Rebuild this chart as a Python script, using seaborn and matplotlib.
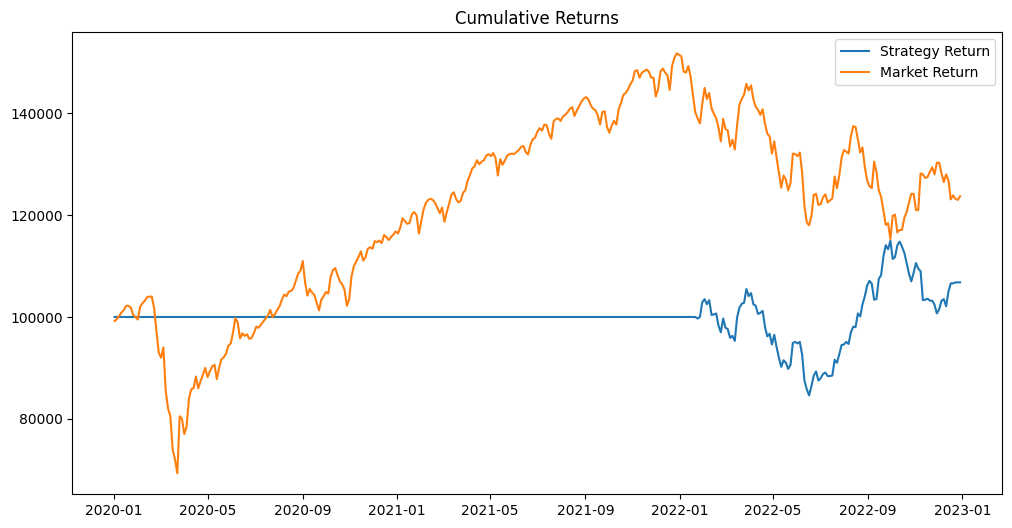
import numpy as np
import pandas as pd
import matplotlib
matplotlib.use("Agg")
import matplotlib.pyplot as plt
import seaborn as sns

# Sampling dates (every 3 calendar days, 2020-01-02 .. 2022-12-29)
dates = pd.date_range("2020-01-02", periods=365, freq="3D")

# Market cumulative value, in thousands of dollars
market_k = [
    99.2, 99.6, 100.2, 100.9, 101.4, 102.2, 102.2, 101.8, 100.4, 100.0,
    99.5, 102.0, 102.7, 103.2, 103.9, 104.0, 104.0, 101.8, 97.2, 93.0,
    92.0, 94.0, 85.5, 82.0, 80.5, 74.0, 72.0, 69.3, 80.5, 80.0,
    77.0, 78.5, 84.0, 85.8, 86.0, 88.3, 86.0, 87.4, 88.6, 90.0,
    88.2, 89.3, 90.3, 90.6, 87.8, 90.0, 91.7, 92.1, 92.8, 94.4,
    94.8, 97.0, 99.8, 98.9, 95.8, 96.8, 96.3, 96.6, 95.7, 95.9,
    96.9, 98.1, 97.9, 98.5, 99.1, 99.7, 100.3, 101.4, 100.0, 100.5,
    101.4, 102.1, 103.4, 104.4, 104.1, 105.0, 105.1, 105.7, 107.1, 108.5,
    109.1, 111.0, 106.8, 104.2, 105.5, 104.8, 104.3, 102.8, 101.3, 103.4,
    104.1, 104.9, 104.6, 107.9, 109.2, 109.6, 108.2, 107.0, 106.4, 105.3,
    102.2, 103.5, 108.0, 110.0, 110.9, 111.8, 112.9, 111.1, 111.7, 113.4,
    113.7, 113.4, 114.9, 114.7, 115.0, 114.5, 116.1, 115.7, 115.1, 115.7,
    116.2, 116.8, 116.4, 117.6, 119.4, 118.8, 118.3, 118.5, 120.2, 120.6,
    120.0, 116.4, 118.7, 121.1, 122.4, 123.0, 123.2, 123.0, 122.4, 121.4,
    120.4, 121.5, 118.7, 120.6, 122.2, 124.0, 124.5, 123.2, 122.5, 122.8,
    124.4, 124.9, 126.8, 127.9, 129.2, 129.6, 130.8, 130.0, 130.5, 130.8,
    131.7, 132.0, 131.6, 132.2, 131.2, 127.8, 131.0, 129.9, 130.7, 131.7,
    132.0, 132.1, 132.0, 132.4, 132.8, 133.4, 133.6, 132.4, 131.9, 133.8,
    134.9, 135.2, 136.4, 137.1, 136.6, 137.8, 137.7, 136.0, 135.0, 138.4,
    138.9, 139.0, 138.5, 139.4, 139.7, 140.2, 140.9, 141.2, 139.5, 140.6,
    141.4, 142.3, 142.9, 143.2, 142.7, 141.6, 140.9, 140.6, 139.6, 137.8,
    140.3, 140.4, 137.3, 136.2, 137.6, 138.5, 137.8, 140.8, 142.0, 143.6,
    144.0, 144.7, 145.7, 146.4, 148.3, 148.5, 147.0, 148.0, 148.3, 148.6,
    148.2, 147.0, 147.0, 143.3, 144.8, 148.2, 148.8, 148.0, 147.5, 144.6,
    149.3, 150.9, 151.8, 151.5, 151.2, 148.2, 148.0, 149.3, 147.2, 143.5,
    140.2, 139.0, 138.0, 141.8, 145.0, 142.8, 144.0, 141.0, 139.9, 139.0,
    137.2, 134.5, 138.9, 136.9, 136.6, 133.5, 134.8, 132.9, 137.7, 141.7,
    142.8, 143.7, 145.8, 144.5, 145.5, 142.8, 141.3, 140.7, 139.7, 140.8,
    138.0, 136.0, 135.5, 132.1, 134.5, 131.3, 128.3, 125.4, 127.8, 127.0,
    124.9, 126.3, 132.1, 132.0, 131.6, 132.3, 128.4, 121.8, 118.6, 118.0,
    119.8, 124.0, 124.2, 122.0, 122.2, 123.5, 124.1, 122.5, 122.9, 123.3,
    127.6, 125.3, 127.8, 131.3, 132.8, 132.5, 132.1, 135.5, 137.5, 137.3,
    134.9, 132.3, 133.3, 129.4, 126.8, 125.7, 125.3, 130.5, 128.5, 124.9,
    123.6, 120.9, 118.1, 118.4, 115.3, 119.9, 120.1, 116.6, 117.1, 117.1,
    119.5, 120.6, 122.5, 124.2, 124.2, 121.0, 121.0, 128.2, 128.0, 127.3,
    127.5, 128.5, 129.4, 128.0, 130.3, 130.3, 128.2, 126.5, 128.0, 126.8,
    123.1, 123.9, 123.2, 123.0, 123.7,
]

# Strategy: flat at the starting capital until it begins trading (thousands)
strategy_flat_k = 100.0
strategy_flat_len = 251
strategy_active_k = [
    99.7, 100.0, 102.9, 103.5, 102.5, 103.3, 100.4, 100.5, 100.7,
    98.3, 97.0, 99.7, 97.9, 97.6, 95.9, 96.3, 95.3, 99.9, 101.8,
    102.6, 102.8, 105.5, 104.1, 104.7, 102.5, 102.2, 100.6, 100.8, 101.2,
    98.1, 96.2, 96.7, 94.6, 96.5, 94.1, 92.0, 90.2, 91.5, 91.0,
    89.8, 90.6, 94.9, 95.1, 94.8, 95.1, 92.6, 87.5, 85.8, 84.6,
    86.4, 88.5, 89.3, 87.5, 88.0, 88.8, 89.1, 88.4, 88.4, 88.5,
    91.6, 91.0, 92.7, 94.5, 94.6, 95.1, 94.7, 97.0, 98.1, 98.0,
    100.7, 100.1, 102.5, 104.1, 106.2, 107.1, 106.5, 103.4, 103.5, 107.5,
    108.2, 111.9, 114.1, 113.3, 115.0, 111.4, 111.8, 114.1, 114.8, 113.8,
    112.6, 110.6, 108.5, 107.0, 108.7, 110.6, 109.5, 109.0, 103.3, 103.4,
    103.6, 103.2, 103.2, 102.4, 100.7, 101.5, 103.2, 103.5, 102.1, 105.0,
    106.6, 106.6, 106.8, 106.8, 106.8,
]

market = np.array(market_k) * 1000
strategy = np.array([strategy_flat_k] * strategy_flat_len + strategy_active_k) * 1000

df = pd.DataFrame({"Date": dates, "Strategy Return": strategy, "Market Return": market})

fig, ax = plt.subplots(figsize=(12, 6), dpi=100)
sns.lineplot(data=df, x="Date", y="Strategy Return", ax=ax, label="Strategy Return",
             color="#1f77b4", linewidth=1.5)
sns.lineplot(data=df, x="Date", y="Market Return", ax=ax, label="Market Return",
             color="#ff7f0e", linewidth=1.5)
ax.set_title("Cumulative Returns")
ax.set_xlabel("")
ax.set_ylabel("")
ax.legend(loc="upper right")
fig.savefig("out.png", dpi=100, bbox_inches="tight")
